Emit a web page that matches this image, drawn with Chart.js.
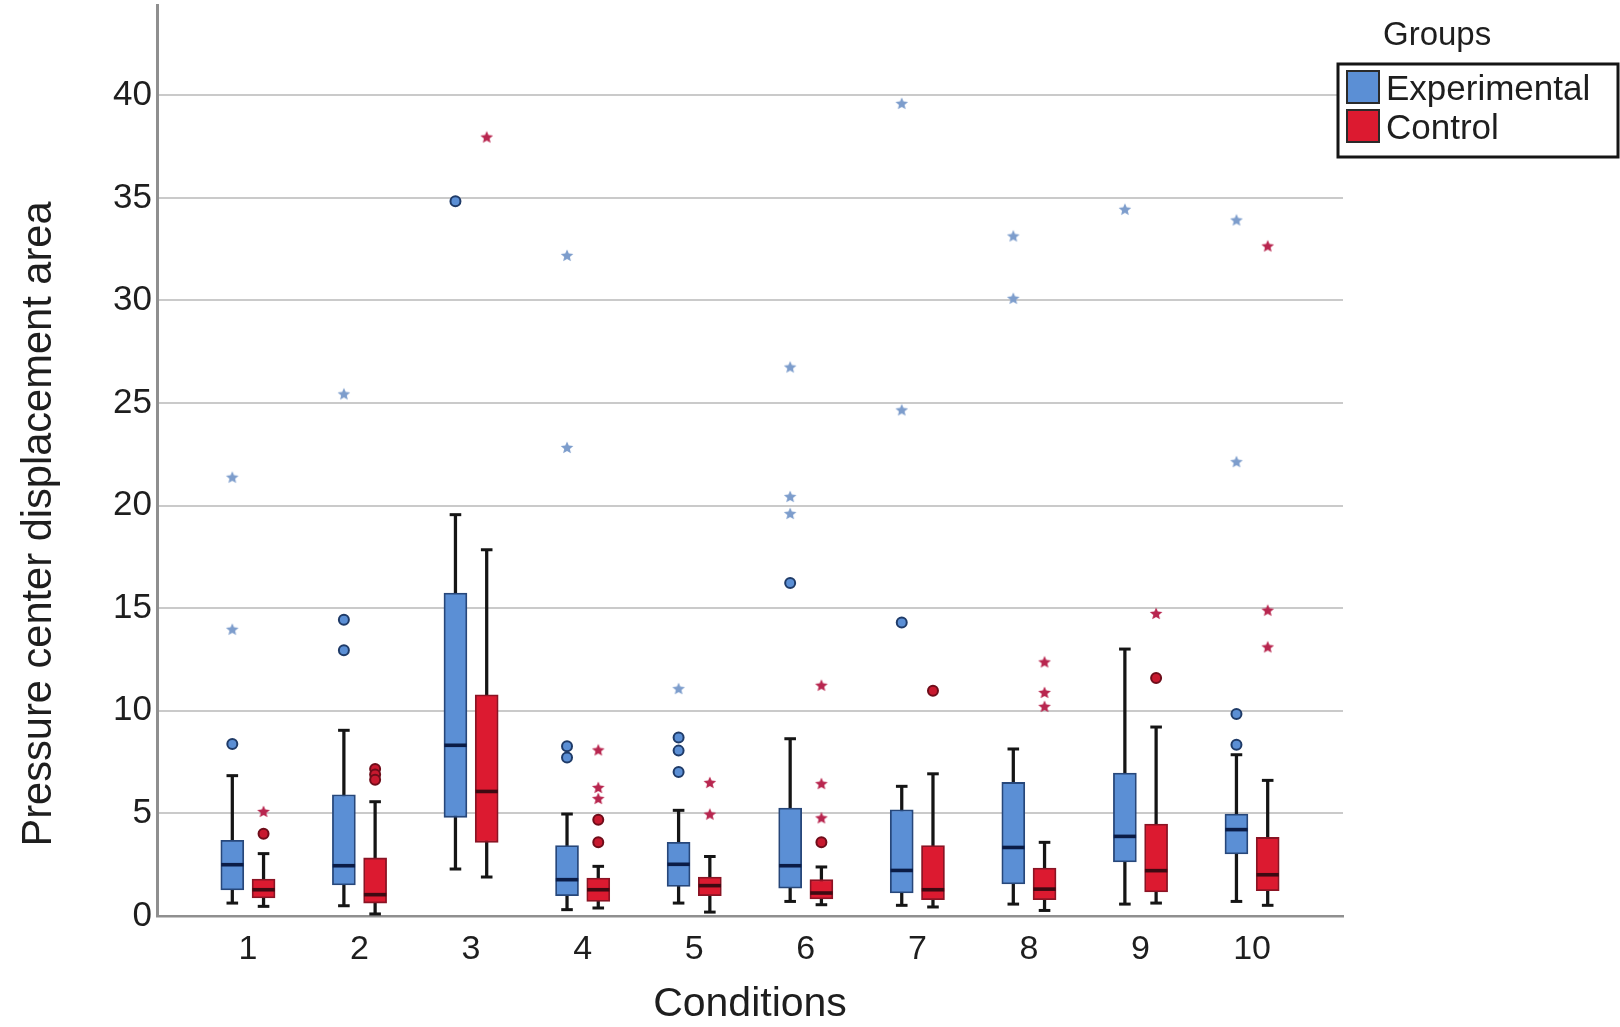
<!DOCTYPE html>
<html>
<head>
<meta charset="utf-8">
<script src="https://cdn.jsdelivr.net/npm/chart.js@4.4.1/dist/chart.umd.min.js"></script>
<style>
html,body{margin:0;padding:0;background:#fff;}
#wrap{width:1620px;height:1027px;position:relative;}
</style>
</head>
<body>
<div id="wrap"><canvas id="c" width="1620" height="1027"></canvas></div>
<script>
// ---------- data ----------
const conditions = [1, 2, 3, 4, 5, 6, 7, 8, 9, 10];
const yTickValues = [0, 5, 10, 15, 20, 25, 30, 35, 40];
const groupNames = ['Experimental', 'Control'];
const legendTitle = 'Groups';
const xTitle = 'Conditions';
const yTitle = 'Pressure center displacement area';

// Experimental group
const expWhiskerLow  = [0.63, 0.50, 2.29, 0.31, 0.63, 0.71, 0.52, 0.58, 0.58, 0.71];
const expQ1          = [1.27, 1.51, 4.81, 0.99, 1.44, 1.36, 1.12, 1.56, 2.63, 3.02];
const expMedian      = [2.50, 2.45, 8.32, 1.77, 2.52, 2.45, 2.22, 3.34, 3.88, 4.21];
const expQ3          = [3.69, 5.91, 15.74, 3.43, 3.59, 5.26, 5.18, 6.51, 6.97, 4.97];
const expWhiskerHigh = [6.84, 9.05, 19.56, 4.97, 5.15, 8.64, 6.32, 8.14, 13.01, 7.86];
const expOutliers = [[8.38], [14.44, 12.95], [34.83], [8.27, 7.73], [8.70, 8.06, 7.02], [16.23], [14.31], [], [], [9.84, 8.35]];
const expExtremes = [[13.95, 21.36], [25.42], [], [32.17, 22.81], [11.06], [26.73, 20.42, 19.59], [39.58, 24.64], [33.12, 30.08], [34.42], [33.90, 22.12]];

// Control group
const ctlWhiskerLow  = [0.47, 0.10, 1.90, 0.39, 0.19, 0.55, 0.44, 0.27, 0.63, 0.52];
const ctlQ1          = [0.88, 0.63, 3.59, 0.71, 0.99, 0.83, 0.79, 0.79, 1.17, 1.23];
const ctlMedian      = [1.28, 1.04, 6.07, 1.28, 1.48, 1.12, 1.28, 1.31, 2.21, 2.01];
const ctlQ3          = [1.80, 2.83, 10.78, 1.85, 1.90, 1.77, 3.43, 2.34, 4.48, 3.83];
const ctlWhiskerHigh = [3.04, 5.57, 17.85, 2.42, 2.90, 2.39, 6.93, 3.59, 9.21, 6.61];
const ctlOutliers = [[4.01], [7.16, 6.90, 6.64], [], [4.69, 3.60], [], [3.60], [10.98], [], [11.60], []];
const ctlExtremes = [[5.07], [], [37.94], [8.07, 6.24, 5.70], [6.48, 4.94], [11.22, 6.43, 4.76], [], [12.36, 10.87, 10.19], [14.72], [32.63, 14.88, 13.09]];

// ---------- styling ----------
const FF = '"Liberation Sans", Arial, Helvetica, sans-serif';
const TEXT = '#1e1e1e';
const OFF = 0.14; // half distance between the two boxes of a condition (x units)
const style = {
  exp: {fill: '#5b8fd5', border: '#27477a', median: '#0b1c46', circle: '#5b8fd5', circleBorder: '#1f3b68', star: '#7d9dcc'},
  ctl: {fill: '#dc1a30', border: '#8a1424', median: '#3d0a12', circle: '#c8192f', circleBorder: '#6e0d1a', star: '#b8264f'}
};

function starCanvas(color, r) {
  const s = Math.ceil(r * 2 + 2);
  const cv = document.createElement('canvas');
  cv.width = s; cv.height = s;
  const g = cv.getContext('2d');
  g.fillStyle = color;
  g.beginPath();
  for (let k = 0; k < 10; k++) {
    const rr = k % 2 ? r * 0.45 : r;
    const a = -Math.PI / 2 + k * Math.PI / 5;
    g.lineTo(s / 2 + rr * Math.cos(a), s / 2 + rr * Math.sin(a));
  }
  g.closePath();
  g.fill();
  return cv;
}

const rng = (o, lo, hi) => conditions.map((c, i) => ({x: c + o, y: [lo[i], hi[i]]}));
const single = (o, vals) => conditions.map((c, i) => ({x: c + o, y: vals[i]}));
const caps = (o, lo, hi) => single(o, lo).concat(single(o, hi));
const pts = (o, lists) => {
  const out = [];
  lists.forEach((list, i) => list.forEach(v => out.push({x: conditions[i] + o, y: v})));
  return out;
};

function groupDatasets(name, o, s, wl, q1, med, q3, wh, outl, extr) {
  return [
    {type: 'bar', label: name + ' whisker', data: rng(o, wl, wh), backgroundColor: '#151515', borderWidth: 0,
     barThickness: 2.6, grouped: false, order: 10, isLegend: false},
    {type: 'scatter', label: name + ' caps', data: caps(o, wl, wh), pointStyle: 'line', pointRadius: 5.8,
     pointBorderColor: '#151515', pointBorderWidth: 3, order: 9, isLegend: false},
    {type: 'bar', label: name, data: rng(o, q1, q3), backgroundColor: s.fill, borderColor: s.border, borderWidth: 1.8,
     borderSkipped: false, barThickness: 23, grouped: false, order: 5, isLegend: true},
    {type: 'scatter', label: name + ' median', data: single(o, med), pointStyle: 'line', pointRadius: 11.2,
     pointBorderColor: s.median, pointBorderWidth: 3.6, order: 3, isLegend: false},
    {type: 'scatter', label: name + ' outliers', data: pts(o, outl), pointStyle: 'circle', pointRadius: 5,
     pointBackgroundColor: s.circle, pointBorderColor: s.circleBorder, pointBorderWidth: 2, order: 2, isLegend: false},
    {type: 'scatter', label: name + ' extremes', data: pts(o, extr), pointStyle: starCanvas(s.star, 6.6),
     pointRadius: 6.6, order: 1, isLegend: false}
  ];
}

const datasets = [].concat(
  groupDatasets(groupNames[0], -OFF, style.exp, expWhiskerLow, expQ1, expMedian, expQ3, expWhiskerHigh, expOutliers, expExtremes),
  groupDatasets(groupNames[1], OFF, style.ctl, ctlWhiskerLow, ctlQ1, ctlMedian, ctlQ3, ctlWhiskerHigh, ctlOutliers, ctlExtremes)
);

const groupsLegend = {
  id: 'groupsLegend',
  afterDraw(chart) {
    const ctx = chart.ctx, ca = chart.chartArea;
    const x0 = ca.right - 5, x1 = chart.width - 2, y0 = 64, y1 = 157;
    ctx.save();
    ctx.fillStyle = '#ffffff';
    ctx.fillRect(x0, y0, x1 - x0, y1 - y0);
    ctx.lineWidth = 3;
    ctx.strokeStyle = '#151515';
    ctx.strokeRect(x0, y0, x1 - x0, y1 - y0);
    ctx.fillStyle = TEXT;
    ctx.textAlign = 'left';
    ctx.textBaseline = 'middle';
    ctx.font = '33px ' + FF;
    ctx.fillText(legendTitle, x0 + 45, 36);
    const items = chart.data.datasets.filter(d => d.isLegend);
    ctx.font = '35px ' + FF;
    items.forEach((d, k) => {
      const cy = 87 + k * 39;
      ctx.fillStyle = d.backgroundColor;
      ctx.fillRect(x0 + 9, cy - 16, 32, 32);
      ctx.lineWidth = 2;
      ctx.strokeStyle = '#2a2a2a';
      ctx.strokeRect(x0 + 9, cy - 16, 32, 32);
      ctx.fillStyle = TEXT;
      ctx.fillText(d.label, x0 + 48, cy + 3);
    });
    ctx.restore();
  }
};

const yTitlePlugin = {
  id: 'yTitle',
  afterDraw(chart) {
    const ctx = chart.ctx;
    ctx.save();
    ctx.translate(40, 524);
    ctx.rotate(-Math.PI / 2);
    ctx.fillStyle = TEXT;
    ctx.font = '41.6px ' + FF;
    ctx.textAlign = 'center';
    ctx.textBaseline = 'middle';
    ctx.fillText(yTitle, 0, 0);
    ctx.restore();
  }
};

Chart.defaults.font.family = FF;

new Chart(document.getElementById('c'), {
  type: 'bar',
  data: {datasets},
  options: {
    responsive: false,
    animation: false,
    events: [],
    layout: {autoPadding: false, padding: {top: 5, right: 277, left: 0, bottom: 0}},
    plugins: {legend: {display: false}, tooltip: {enabled: false}, title: {display: false}},
    scales: {
      x: {
        type: 'linear', min: 0.185, max: 10.815, offset: false,
        afterBuildTicks: s => { s.ticks = conditions.map(v => ({value: v})); },
        afterFit: s => { s.height = 111; s.paddingLeft = 0; s.paddingRight = 0; },
        grid: {display: false, drawTicks: false},
        border: {display: true, color: '#8f8f8f', width: 2.5},
        ticks: {font: {size: 34}, color: TEXT, padding: 13, autoSkip: false, maxRotation: 0},
        title: {display: true, text: xTitle, color: TEXT, font: {size: 41, lineHeight: 1.1}, padding: {top: 0, bottom: 0}}
      },
      y: {
        min: 0, max: 44.4,
        afterBuildTicks: s => { s.ticks = yTickValues.map(v => ({value: v})); },
        afterFit: s => { s.width = 157; s.paddingTop = 0; s.paddingBottom = 0; },
        grid: {color: '#cacaca', lineWidth: 2, drawTicks: false},
        border: {display: true, color: '#8f8f8f', width: 3},
        ticks: {font: {size: 35}, color: TEXT, padding: 5}
      }
    }
  },
  plugins: [groupsLegend, yTitlePlugin]
});
</script>
</body>
</html>
